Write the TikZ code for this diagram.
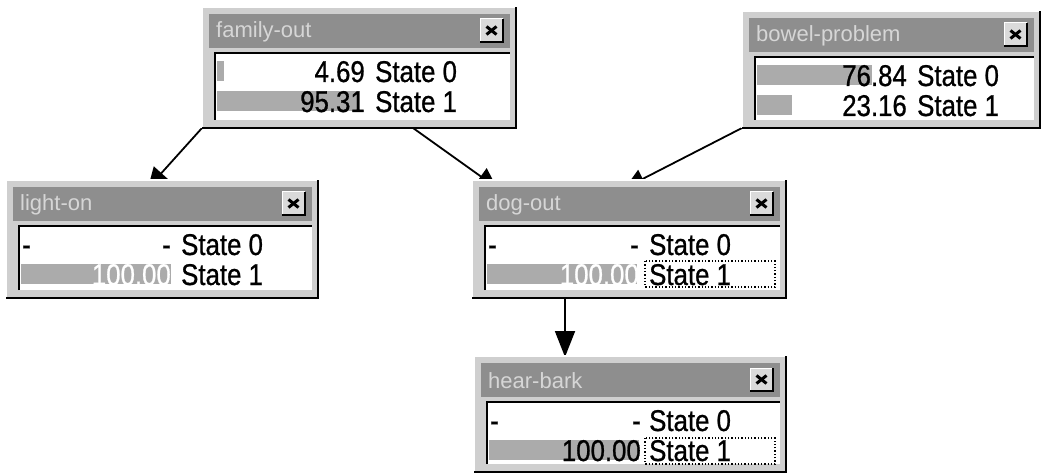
\documentclass[tikz,border=0pt]{standalone}
\usepackage{fontspec}
\setmainfont{Liberation Sans}
\newfontfamily\uifont[FakeStretch=0.86,FakeBold=0.8]{Liberation Sans}
\usetikzlibrary{arrows.meta,calc}
\pgfdeclarelayer{back}
\pgfdeclarelayer{bg}
\pgfsetlayers{back,bg,main}
\definecolor{framegrey}{HTML}{CFCFCF}
\definecolor{titlegrey}{HTML}{8E8E8E}
\definecolor{titletext}{HTML}{D6D6D6}
\definecolor{bargrey}{HTML}{ABABAB}
\definecolor{btngrey}{HTML}{DADADA}
\tikzset{
  winframe/.style={draw=none, fill=framegrey, inner sep=0pt, outer sep=0pt, rectangle},
  bodybox/.style={draw=none, fill=white, inner sep=0pt, outer sep=0pt, rectangle},
  closebtn/.style={draw=none, fill=btngrey, inner sep=0pt, outer sep=0pt, rectangle, minimum size=23pt},
  titlebar/.style={fill=titlegrey},
  titletxt/.style={anchor=west, text=titletext, font=\fontsize{22}{24}\selectfont, inner sep=0pt},
  num/.style={anchor=base east, inner sep=0pt, font=\uifont\fontsize{30}{32}\selectfont},
  st/.style={anchor=base west, inner sep=0pt, font=\uifont\fontsize{30}{32}\selectfont},
  dashl/.style={anchor=base west, inner sep=0pt, font=\uifont\fontsize{30}{32}\selectfont},
  bar/.style={fill=bargrey},
  conn/.style={line width=1.8pt, -{Triangle[length=20pt,width=20pt]}},
  selbox/.style={dotted, line width=1.3pt},
}
% name, W, H, title
\newcommand\bnframe[4]{%
  \node[winframe, minimum width=#2pt, minimum height=#3pt, anchor=north west] (#1) at (0,0) {};
  \draw[white, line width=1.5pt] (#1.south west) -- (#1.north west) -- (#1.north east);
  \draw[black, line width=2.5pt] (#1.south west) -- (#1.south east) -- (#1.north east);
  \fill[titlebar] (7,7) rectangle (#2-6,41);
  \node[titletxt] (#1-title) at (14,25) {#4};
  \node[closebtn, anchor=north west] (#1-close) at (#2-36,12) {};
  \draw[white, line width=1pt] (#1-close.south west) -- (#1-close.north west) -- (#1-close.north east);
  \draw[black, line width=1.5pt] (#1-close.south west) -- (#1-close.south east) -- (#1-close.north east);
  \draw[black, line width=3pt] ($(#1-close.center)+(-5,-4)$) -- ($(#1-close.center)+(5,4)$);
  \draw[black, line width=3pt] ($(#1-close.center)+(-5,4)$) -- ($(#1-close.center)+(5,-4)$);
  \node[bodybox, minimum width={#2pt-19pt}, minimum height={#3pt-54pt}, anchor=north west] (#1-body) at (13,46) {};
  \draw[black, line width=2pt] (#1-body.south west) -- (#1-body.north west) -- (#1-body.north east);
}
% row center, percent
\newcommand\bnbar[2]{\fill[bar] (15,#1-10) rectangle (15+1.5*#2,#1+10);}

\begin{document}
\begin{tikzpicture}[x=1pt,y=-1pt]
\begin{pgfonlayer}{back}
\fill[white] (0,0) rectangle (1041,473);
\end{pgfonlayer}
\useasboundingbox (0,0) rectangle (1041,473);

% family-out
\begin{scope}[shift={(202,7)}]
  \bnframe{fam}{314}{121}{family-out}
  \bnbar{64}{4.69}
  \bnbar{94}{95.31}
  \node[num] (fam-v0) at (163,75) {4.69};
  \node[st]  (fam-s0) at (173,75) {State 0};
  \node[num] (fam-v1) at (163,105) {95.31};
  \node[st]  (fam-s1) at (173,105) {State 1};
\end{scope}

% bowel-problem
\begin{scope}[shift={(742,11)}]
  \bnframe{bowel}{298}{117}{bowel-problem}
  \bnbar{64}{76.84}
  \bnbar{94}{23.16}
  \node[num] (bowel-v0) at (165,75) {76.84};
  \node[st]  (bowel-s0) at (175,75) {State 0};
  \node[num] (bowel-v1) at (165,105) {23.16};
  \node[st]  (bowel-s1) at (175,105) {State 1};
\end{scope}

% light-on
\begin{scope}[shift={(6,180)}]
  \bnframe{light}{312}{118}{light-on}
  \bnbar{94}{100}
  \node[dashl] (light-d0) at (16,75) {-};
  \node[num] (light-v0) at (165,75) {-};
  \node[st]  (light-s0) at (175,75) {State 0};
  \node[num, text=white] (light-v1) at (165,105) {100.00};
  \node[st]  (light-s1) at (175,105) {State 1};
\end{scope}

% dog-out
\begin{scope}[shift={(472,180)}]
  \bnframe{dog}{314}{118}{dog-out}
  \bnbar{94}{100}
  \node[dashl] (dog-d0) at (16,75) {-};
  \node[num] (dog-v0) at (167,75) {-};
  \node[st]  (dog-s0) at (177,75) {State 0};
  \node[num, text=white] (dog-v1) at (167,105) {100.00};
  \node[st]  (dog-s1) at (177,105) {State 1};
  \draw[selbox] (173,81) rectangle (303,107);
\end{scope}

% hear-bark
\begin{scope}[shift={(474,356)}]
  \bnframe{hear}{312}{116}{hear-bark}
  \bnbar{94}{100}
  \node[dashl] (hear-d0) at (16,75) {-};
  \node[num] (hear-v0) at (167,75) {-};
  \node[st]  (hear-s0) at (175,75) {State 0};
  \node[num] (hear-v1) at (167,105) {100.00};
  \node[st]  (hear-s1) at (175,105) {State 1};
  \draw[selbox] (171,82) rectangle (301,108);
\end{scope}

\begin{pgfonlayer}{bg}
  \draw[conn] (fam.south west) -- ([shift={(142,8)}]light.north west);
  \draw[conn] ([shift={(211,0)}]fam.south west) -- ([shift={(25,8)}]dog.north west);
  \draw[conn] (bowel.south west) -- ([shift={(153,8)}]dog.north west);
  \draw[conn, -{Triangle[length=26pt,width=20pt]}] ([shift={(93,0)}]dog.south west) -- ([shift={(91,1)}]hear.north west);
\end{pgfonlayer}
\end{tikzpicture}
\end{document}
